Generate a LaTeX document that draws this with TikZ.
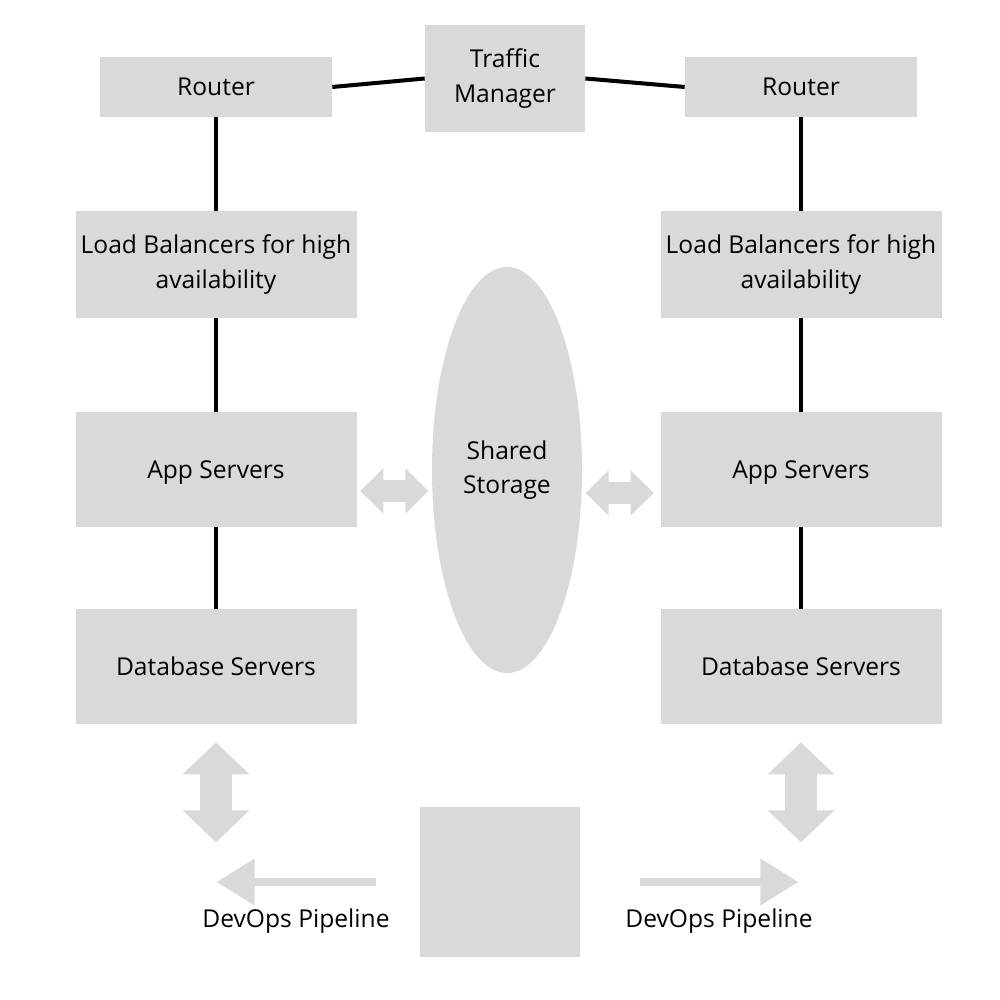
\documentclass[tikz,border=0pt]{standalone}
\usepackage{fontspec}
\setmainfont{Open Sans}
\usetikzlibrary{arrows.meta,shapes.geometric}
\definecolor{boxgray}{HTML}{D9D9D9}

\begin{document}
\begin{tikzpicture}[
    every node/.style={font=\fontsize{14}{19.5}\selectfont},
    box/.style={fill=boxgray, align=center, inner sep=0pt},
    link/.style={line width=2.3pt},
    hpush/.style={draw=boxgray, line width=0.44cm,
      {Triangle[width=0.88cm,length=0.46cm]}-{Triangle[width=0.88cm,length=0.46cm]}},
    vpush/.style={draw=boxgray, line width=0.64cm,
      {Triangle[width=1.3cm,length=0.64cm]}-{Triangle[width=1.3cm,length=0.64cm]}},
    deploy/.style={draw=boxgray, line width=0.146cm,
      -{Triangle[width=0.9cm,length=0.76cm]}},]
    \useasboundingbox (0,0) rectangle (20,20);
    % top row
    \node[box, minimum width=4.64cm, minimum height=1.2cm] (routl) at (4.32,18.26) {Router};
    \node[box, minimum width=3.2cm, minimum height=2.14cm] (traffic) at (10.1,18.43) {Traffic\\Manager};
    \node[box, minimum width=4.64cm, minimum height=1.2cm] (routr) at (16.02,18.26) {Router};
    % left column
    \node[box, minimum width=5.62cm, minimum height=2.14cm] (lbl) at (4.32,14.71) {Load Balancers for high\\availability};
    \node[box, minimum width=5.62cm, minimum height=2.3cm, text depth=0pt] (appl) at (4.32,10.61) {App Servers};
    \node[box, minimum width=5.62cm, minimum height=2.3cm] (dbl) at (4.32,6.67) {Database Servers};
    % right column
    \node[box, minimum width=5.62cm, minimum height=2.14cm] (lbr) at (16.02,14.71) {Load Balancers for high\\availability};
    \node[box, minimum width=5.62cm, minimum height=2.3cm, text depth=0pt] (appr) at (16.02,10.61) {App Servers};
    \node[box, minimum width=5.62cm, minimum height=2.3cm] (dbr) at (16.02,6.67) {Database Servers};
    % middle
    \node[box, ellipse, minimum width=3cm, minimum height=8.12cm] (store) at (10.14,10.6) {Shared\\Storage};
    \node[box, minimum width=3.2cm, minimum height=3cm] (hub) at (10,2.36) {};
    \node (devl) at (5.92,1.58) {DevOps Pipeline};
    \node (devr) at (14.38,1.58) {DevOps Pipeline};

    \draw[link] (routl.east) -- (traffic.west);
    \draw[link] (traffic.east) -- (routr.west);
    \draw[link] (routl) -- (lbl) -- (appl) -- (dbl);
    \draw[link] (routr) -- (lbr) -- (appr) -- (dbr);

    \draw[hpush] ([shift={(0.07,-0.43)}]appl.east) -- ++(1.36,0);
    \draw[hpush] ([shift={(-0.13,-0.47)}]appr.west) -- ++(-1.36,0);
    \draw[vpush] ([yshift=-0.36cm]dbl.south) -- ++(0,-2);
    \draw[vpush] ([yshift=-0.36cm]dbr.south) -- ++(0,-2);
    \draw[deploy] ([xshift=-0.88cm]hub.west) -- ++(-3.18,0);
    \draw[deploy] ([xshift=1.2cm]hub.east) -- ++(3.16,0);
\end{tikzpicture}
\end{document}
